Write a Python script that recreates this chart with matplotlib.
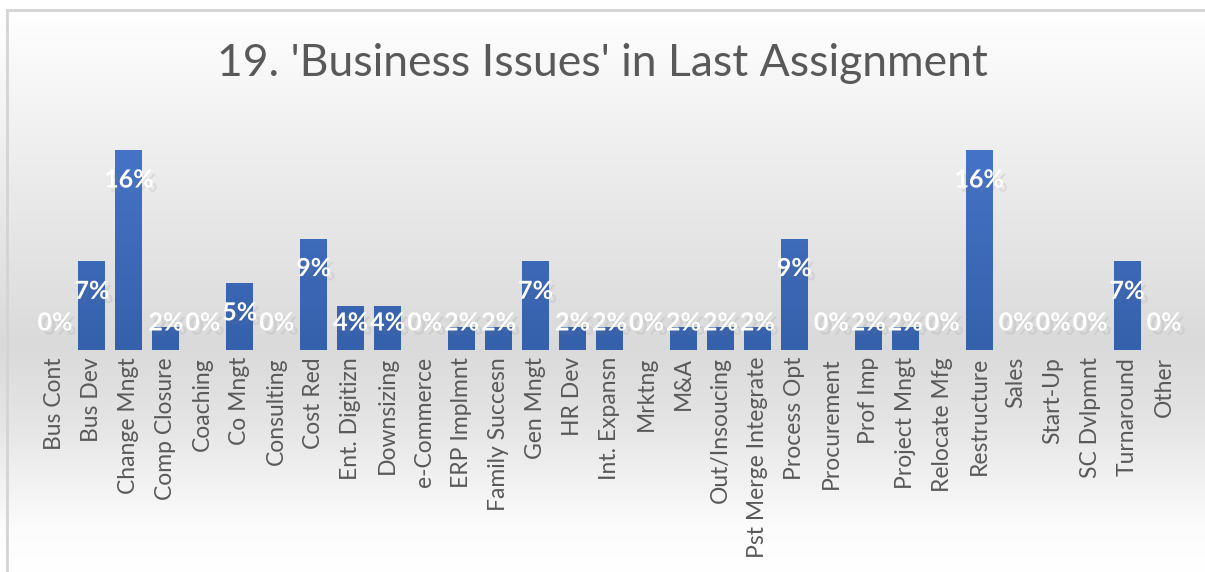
import numpy as np
import matplotlib
matplotlib.use("Agg")
import matplotlib.pyplot as plt
import matplotlib.patheffects as pe
from matplotlib.colors import LinearSegmentedColormap

# category labels along the x axis
categories = [
    "Bus Cont", "Bus Dev", "Change Mngt", "Comp Closure", "Coaching", "Co Mngt",
    "Consulting", "Cost Red", "Ent. Digitizn", "Downsizing", "e-Commerce",
    "ERP Implmnt", "Family Succesn", "Gen Mngt", "HR Dev", "Int. Expansn",
    "Mrktng", "M&A", "Out/Insoucing", "Pst Merge Integrate", "Process Opt",
    "Procurement", "Prof Imp", "Project Mngt", "Relocate Mfg", "Restructure",
    "Sales", "Start-Up", "SC Dvlpmnt", "Turnaround", "Other",
]
# share of answers (%)
shares = [
    0.0, 7.0, 15.8, 1.8, 0.0, 5.3,
    0.0, 8.8, 3.5, 3.5, 0.0,
    1.8, 1.8, 7.0, 1.8, 1.8,
    0.0, 1.8, 1.8, 1.8, 8.8,
    0.0, 1.8, 1.8, 0.0, 15.8,
    0.0, 0.0, 0.0, 7.0, 0.0,
]
title = "19. 'Business Issues' in Last Assignment"

W, H = 1205, 572
fig = plt.figure(figsize=(W / 100, H / 100), dpi=100)

# background gradient: white -> grey -> white
bg = fig.add_axes([0, 0, 1, 1], zorder=-10)
ys = np.arange(H)
stops_y = [0, 12, 150, 345, 420, 530, H]
stops_v = [1.0, 1.0, 0.935, 0.855, 0.895, 0.99, 1.0]
col = np.interp(ys, stops_y, stops_v)
grad = np.repeat(col[:, None], 2, axis=1)
bg.imshow(np.dstack([grad, grad, grad]), aspect="auto", extent=[0, W, H, 0])
bg.set_xlim(0, W)
bg.set_ylim(H, 0)
bg.axis("off")
# chart border (top and left visible)
bg.plot([7, 7, W + 5], [H + 5, 10, 10], color="#d4d4d4", lw=2, solid_joinstyle="miter")

# plot area
x0, x1 = 36.5, 1182.5
ytop, ybot = 150, 350
ax = fig.add_axes([x0 / W, 1 - ybot / H, (x1 - x0) / W, (ybot - ytop) / H])
ax.patch.set_alpha(0)
x = np.arange(len(categories))
vmax = max(shares)

bars = ax.bar(x, shares, width=0.73, color="#4472C4", linewidth=0)
bar_cmap = LinearSegmentedColormap.from_list("barg", ["#3560AB", "#4573C6"])
gvals = np.linspace(0, 1, 256)[:, None]
for b in bars:
    if b.get_height() <= 0:
        continue
    im = ax.imshow(gvals, cmap=bar_cmap, aspect="auto", origin="lower",
                   extent=[b.get_x(), b.get_x() + b.get_width(), 0, vmax],
                   zorder=2)
    im.set_clip_path(b)
ax.set_xlim(-0.5, len(categories) - 0.5)
ax.set_ylim(0, vmax)

# data labels (white, bold, with a soft shadow)
px = vmax / (ybot - ytop)
shadow = [pe.withSimplePatchShadow(offset=(3, -3), shadow_rgbFace="#808080", alpha=0.14)]
for xi, v in zip(x, shares):
    ly = max(v - 30 * px, 27 * px)
    ax.text(xi, ly, f"{v:.0f}%", ha="center", va="center", color="white",
            fontsize=18, fontweight="bold", family="Lato", zorder=5,
            path_effects=shadow)

ax.set_xticks(x)
ax.set_xticklabels(categories, rotation=90, fontsize=16.5, family="Lato", color="#595959")
ax.tick_params(axis="x", length=0, pad=5)
ax.set_yticks([])
for s in ax.spines.values():
    s.set_visible(False)

fig.text(0.5, 1 - 63 / H, title, ha="center", va="center", fontsize=32,
         family="Lato", color="#595959")

fig.savefig("out.png", dpi=100)
